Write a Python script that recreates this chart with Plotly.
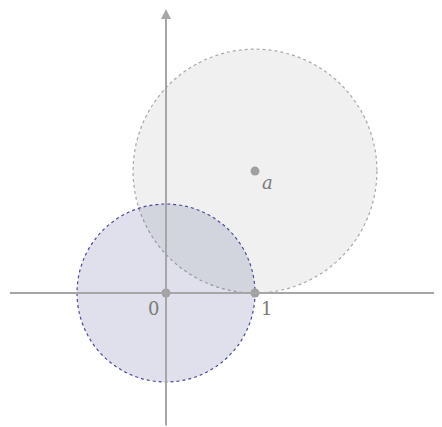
import plotly.graph_objects as go

# Data
point_labels = ["0", "1", "a"]
point_x = [0.0, 1.0, 1.0]
point_y = [0.0, 0.0, 1.37]

circle_cx = [1.0, 0.0]
circle_cy = [1.37, 0.0]
circle_r = [1.37, 1.0]
circle_fill = ["rgba(239,240,239,1)", "rgba(87,90,150,0.19)"]
circle_line = ["#a8a8a8", "#4a4a9a"]

UNIT = 89.0
W, H = 434, 419
ox, oy = 158, 285

xr = [-ox / UNIT, (W - ox) / UNIT]
yr = [-(H - oy) / UNIT, oy / UNIT]

fig = go.Figure()

shapes = []
for cx, cy, r, fc, lc in zip(circle_cx, circle_cy, circle_r, circle_fill, circle_line):
    shapes.append(dict(type="circle", xref="x", yref="y",
                       x0=cx - r, x1=cx + r, y0=cy - r, y1=cy + r,
                       fillcolor=fc, line=dict(color=lc, width=1.2, dash="dot"),
                       layer="below"))
# horizontal axis
shapes.append(dict(type="line", xref="x", yref="y",
                   x0=(2 - ox) / UNIT, x1=xr[1], y0=0, y1=0,
                   line=dict(color="#a6a6a6", width=2)))
fig.update_layout(shapes=shapes)

# vertical axis with arrow (tip slightly above the plot area)
tip_px = -3
fig.add_annotation(x=0, y=1 - tip_px / H, xref="x", yref="paper",
                   ax=0, ay=H - tip_px + 12, axref="pixel", ayref="pixel",
                   showarrow=True, arrowhead=2, arrowsize=1.0, arrowwidth=2,
                   arrowcolor="#a6a6a6", text="")

fig.add_trace(go.Scatter(x=point_x, y=point_y, mode="markers",
                         marker=dict(size=9, color="#a0a0a0"),
                         hoverinfo="skip", showlegend=False))

label_text = ["0", "1", "<i>a</i>"]
label_dx = [-13, 11, 12]
label_dy = [-15, -15, -11]
for t, x, y, dx, dy in zip(label_text, point_x, point_y, label_dx, label_dy):
    fig.add_annotation(x=x, y=y, text=t, showarrow=False, xref="x", yref="y",
                       xshift=dx, yshift=dy,
                       font=dict(family="DejaVu Serif", size=18, color="#7a7a7a"))

fig.update_xaxes(range=xr, visible=False, fixedrange=True)
fig.update_yaxes(range=yr, visible=False, fixedrange=True)
fig.update_layout(width=W, height=H, margin=dict(l=0, r=0, t=0, b=0),
                  paper_bgcolor="white", plot_bgcolor="white", showlegend=False)

fig.write_html("out.html")
